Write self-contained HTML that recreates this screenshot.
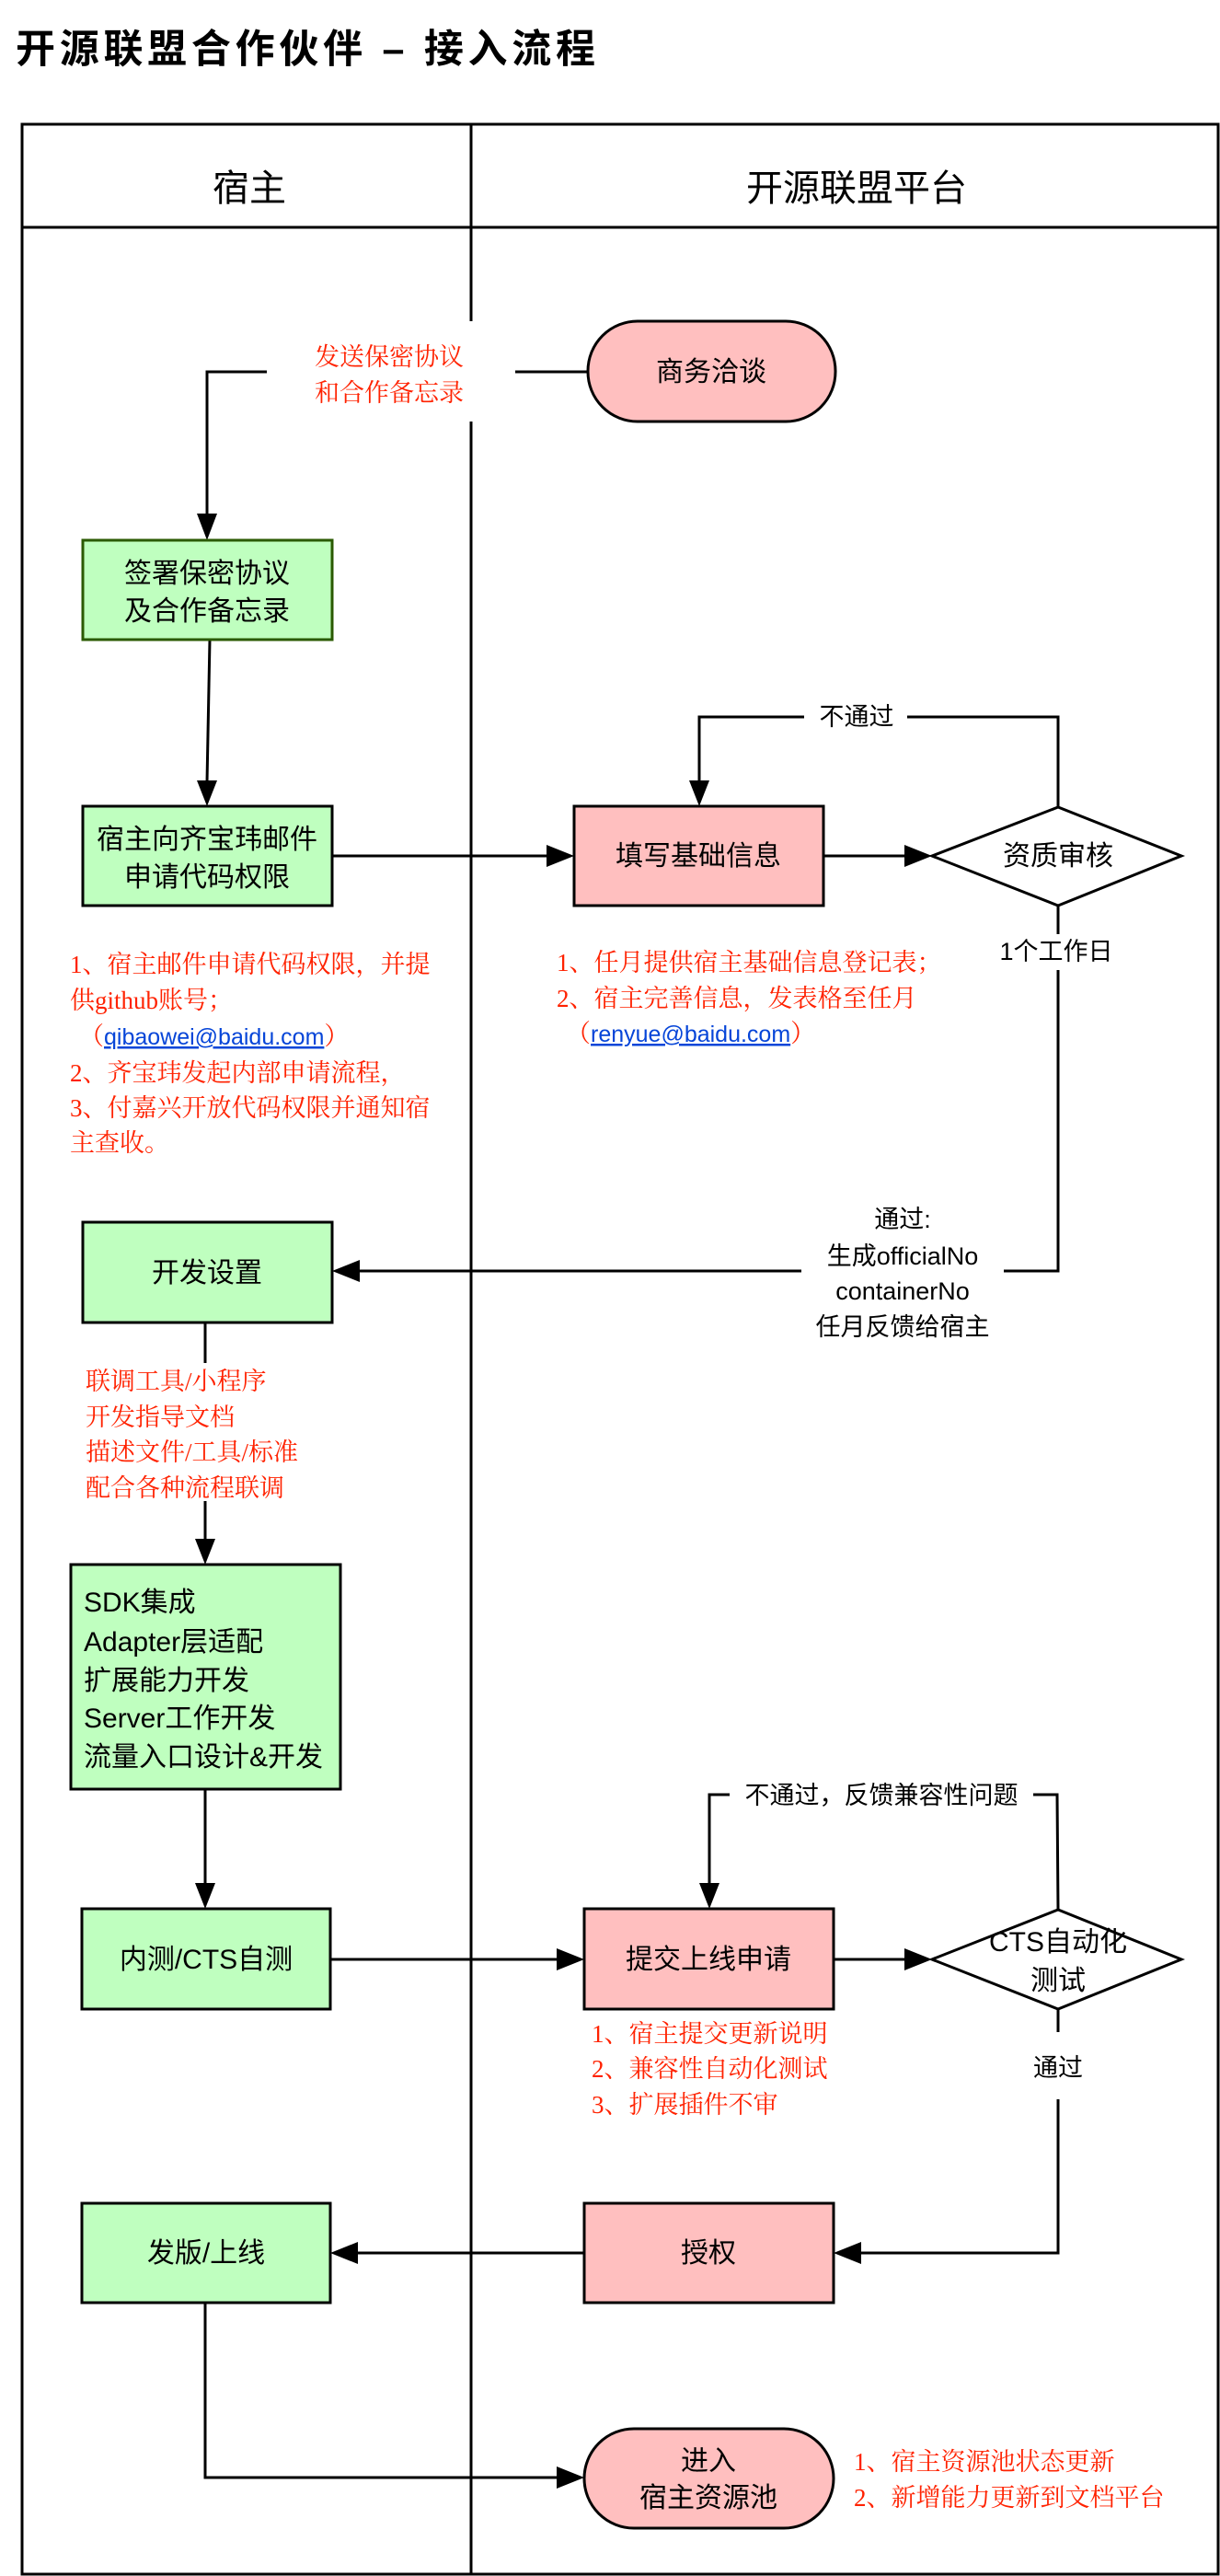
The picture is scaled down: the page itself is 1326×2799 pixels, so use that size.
<!DOCTYPE html>
<html><head><meta charset="utf-8"><style>
html,body{margin:0;padding:0;background:#fff;}
svg{display:block;}
.s{font-family:"Liberation Sans","Noto Sans CJK SC",sans-serif;fill:#000;}
.r{font-family:"Liberation Serif","Noto Serif CJK SC",serif;fill:#ff2200;font-size:27px;}
.l{fill:#0645d8;text-decoration:underline;font-family:"Liberation Sans","Noto Sans CJK SC",sans-serif;}
</style></head><body>
<svg width="1326" height="2799" viewBox="0 0 1326 2799" xmlns="http://www.w3.org/2000/svg">
<rect width="1326" height="2799" fill="#fff"/>
<text class="s" x="17" y="68" font-size="43" font-weight="bold" textLength="630">开源联盟合作伙伴 – 接入流程</text>

<!-- frame -->
<g stroke="#000" stroke-width="3" fill="none">
<rect x="24" y="135" width="1300" height="2662"/>
<line x1="24" y1="247" x2="1324" y2="247"/>
<line x1="512" y1="135" x2="512" y2="349"/>
<line x1="512" y1="458" x2="512" y2="2797"/>
</g>
<text class="s" x="271" y="218" font-size="40" text-anchor="middle">宿主</text>
<text class="s" x="931" y="218" font-size="40" text-anchor="middle">开源联盟平台</text>

<g stroke="#000" stroke-width="3" fill="none">
<!-- top connector -->
<polyline points="290,404 225,404 225,560"/>
<line x1="560" y1="404" x2="639" y2="404"/>
<line x1="228" y1="695" x2="225" y2="850"/>
<line x1="361" y1="930" x2="596" y2="930"/>
<line x1="895" y1="930" x2="985" y2="930"/>
<polyline points="1150,877 1150,779 986,779"/>
<polyline points="874,779 760,779 760,850"/>
<polyline points="1150,984 1150,1015"/>
<polyline points="1150,1054 1150,1381 1091,1381"/>
<line x1="871" y1="1381" x2="390" y2="1381"/>
<line x1="223" y1="1437" x2="223" y2="1481"/>
<line x1="223" y1="1631" x2="223" y2="1672"/>
<line x1="223" y1="1944" x2="223" y2="2046"/>
<line x1="359" y1="2129" x2="606" y2="2129"/>
<line x1="906" y1="2129" x2="985" y2="2129"/>
<polyline points="1150,2075 1149,1950 1123,1950"/>
<polyline points="793,1950 771,1950 771,2046"/>
<line x1="1150" y1="2183" x2="1150" y2="2208"/>
<polyline points="1150,2281 1150,2448 934,2448"/>
<line x1="635" y1="2448" x2="388" y2="2448"/>
<polyline points="223,2502 223,2692 606,2692"/>
</g>
<g fill="#000">
<polygon points="214,558 236,558 225,587"/>
<polygon points="214,848 236,848 225,876"/>
<polygon points="594,918 594,942 624,930"/>
<polygon points="983,918 983,942 1013,930"/>
<polygon points="749,848 771,848 760,876"/>
<polygon points="391,1369 391,1393 361,1381"/>
<polygon points="212,1672 234,1672 223,1700"/>
<polygon points="212,2046 234,2046 223,2074"/>
<polygon points="605,2117 605,2141 635,2129"/>
<polygon points="983,2117 983,2141 1013,2129"/>
<polygon points="760,2046 782,2046 771,2074"/>
<polygon points="936,2436 936,2460 906,2448"/>
<polygon points="389,2436 389,2460 359,2448"/>
<polygon points="605,2680 605,2704 635,2692"/>
</g>

<!-- shapes -->
<g stroke-width="3">
<rect x="639" y="349" width="269" height="109" rx="54" fill="#ffbfbf" stroke="#000"/>
<rect x="90" y="587" width="271" height="108" fill="#bfffbf" stroke="#2a5a00"/>
<rect x="90" y="876" width="271" height="108" fill="#bfffbf" stroke="#000"/>
<rect x="624" y="876" width="271" height="108" fill="#ffbfbf" stroke="#000"/>
<polygon points="1013,930 1150,877 1284,930 1150,984" fill="#fff" stroke="#000"/>
<rect x="90" y="1328" width="271" height="109" fill="#bfffbf" stroke="#000"/>
<rect x="77" y="1700" width="293" height="244" fill="#bfffbf" stroke="#000"/>
<rect x="89" y="2074" width="270" height="109" fill="#bfffbf" stroke="#000"/>
<rect x="635" y="2074" width="271" height="109" fill="#ffbfbf" stroke="#000"/>
<polygon points="1013,2129 1150,2075 1284,2129 1150,2183" fill="#fff" stroke="#000"/>
<rect x="635" y="2394" width="271" height="108" fill="#ffbfbf" stroke="#000"/>
<rect x="89" y="2394" width="270" height="108" fill="#bfffbf" stroke="#000"/>
<rect x="635" y="2639" width="271" height="108" rx="54" fill="#ffbfbf" stroke="#000"/>
</g>

<!-- box text -->
<g class="s" font-size="30" text-anchor="middle">
<text x="773" y="414">商务洽谈</text>
<text x="225" y="633">签署保密协议</text>
<text x="225" y="674">及合作备忘录</text>
<text x="225" y="922">宿主向齐宝玮邮件</text>
<text x="225" y="963">申请代码权限</text>
<text x="759" y="940">填写基础信息</text>
<text x="1150" y="940">资质审核</text>
<text x="225" y="1393">开发设置</text>
<text x="224" y="2139">内测/CTS自测</text>
<text x="770" y="2139">提交上线申请</text>
<text x="1150" y="2120">CTS自动化</text>
<text x="1150" y="2162">测试</text>
<text x="770" y="2458">授权</text>
<text x="224" y="2458">发版/上线</text>
<text x="770" y="2684">进入</text>
<text x="770" y="2724">宿主资源池</text>
</g>
<g class="s" font-size="30">
<text x="91" y="1751">SDK集成</text>
<text x="91" y="1794">Adapter层适配</text>
<text x="91" y="1836">扩展能力开发</text>
<text x="91" y="1877">Server工作开发</text>
<text x="91" y="1919">流量入口设计&amp;开发</text>
</g>

<!-- black labels -->
<g class="s" font-size="27" text-anchor="middle">
<text x="931" y="788">不通过</text>
<text x="1148" y="1043">1个工作日</text>
<text x="981" y="1334">通过:</text>
<text x="981" y="1374">生成officialNo</text>
<text x="981" y="1412">containerNo</text>
<text x="981" y="1451">任月反馈给宿主</text>
<text x="958" y="1960">不通过，反馈兼容性问题</text>
<text x="1150" y="2256">通过</text>
</g>

<!-- red notes -->
<g class="r">
<text x="423" y="397" text-anchor="middle">发送保密协议</text>
<text x="423" y="436" text-anchor="middle">和合作备忘录</text>
<text x="76" y="1057">1、宿主邮件申请代码权限，并提</text>
<text x="76" y="1096">供github账号；</text>
<text x="86" y="1135">（<tspan class="l" font-size="25">qibaowei@baidu.com</tspan>）</text>
<text x="76" y="1175">2、齐宝玮发起内部申请流程，</text>
<text x="76" y="1213">3、付嘉兴开放代码权限并通知宿</text>
<text x="76" y="1251">主查收。</text>
<text x="605" y="1055">1、任月提供宿主基础信息登记表；</text>
<text x="605" y="1094">2、宿主完善信息，发表格至任月</text>
<text x="615" y="1132">（<tspan class="l" font-size="25">renyue@baidu.com</tspan>）</text>
<text x="93" y="1510">联调工具/小程序</text>
<text x="93" y="1549">开发指导文档</text>
<text x="93" y="1587">描述文件/工具/标准</text>
<text x="93" y="1626">配合各种流程联调</text>
<text x="643" y="2219">1、宿主提交更新说明</text>
<text x="643" y="2257">2、兼容性自动化测试</text>
<text x="643" y="2296">3、扩展插件不审</text>
<text x="928" y="2684">1、宿主资源池状态更新</text>
<text x="928" y="2723">2、新增能力更新到文档平台</text>
</g>
</svg>
</body></html>
